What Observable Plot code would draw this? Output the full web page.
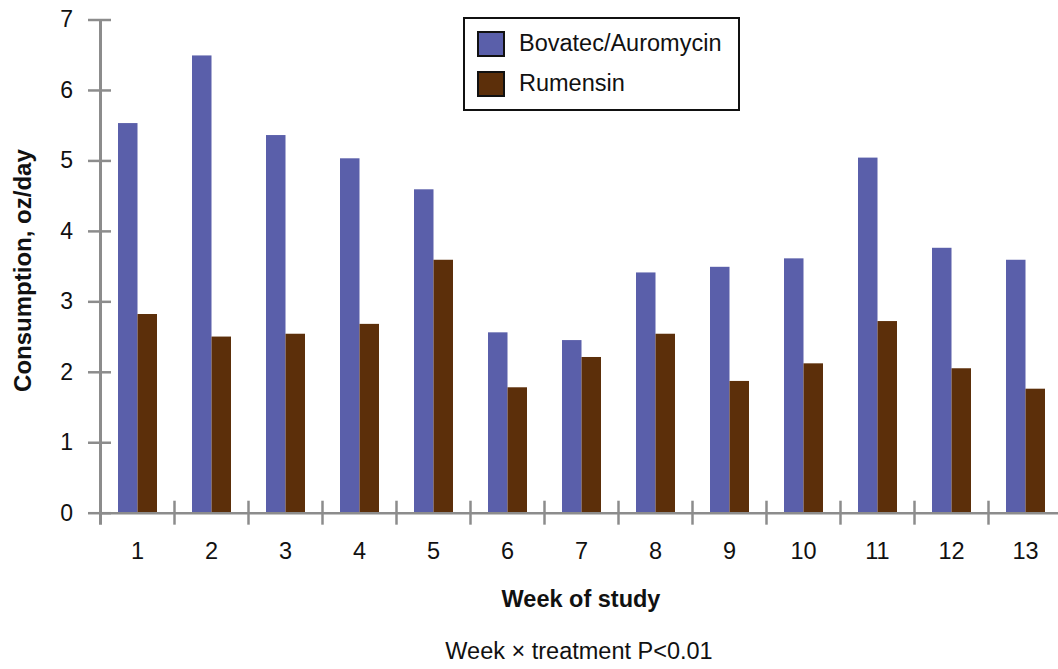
<!DOCTYPE html>
<html>
<head>
<meta charset="utf-8">
<script src="https://cdn.jsdelivr.net/npm/d3@7"></script>
<script src="https://cdn.jsdelivr.net/npm/@observablehq/plot@0.6"></script>
<style>
  html, body { margin: 0; padding: 0; background: #fff; overflow: hidden; }
  #wrap { position: relative; width: 1058px; height: 669px; overflow: hidden;
          font-family: "Liberation Sans", Arial, Helvetica, sans-serif; color: #111; }
  #chart svg { display: block; max-width: none !important; }
  #legend { position: absolute; left: 463px; top: 17px; width: 277px; height: 94px;
            box-sizing: border-box; border: 2px solid #111; background: #fff; }
  .item { position: absolute; left: 12px; height: 27px; display: flex; align-items: center; }
  .sw { width: 24px; height: 22px; border: 2px solid #111; margin-right: 14px; }
  .lab { font-size: 23.5px; }
  #caption { position: absolute; left: 0; width: 1058px; top: 636px; height: 33px;
             text-align: center; font-size: 23.5px; line-height: 30px; padding-left: 100px; box-sizing: border-box; }
</style>
</head>
<body>
<div id="wrap">
  <div id="chart"></div>
  <div id="legend"></div>
  <div id="caption"></div>
</div>
<script>
// ---- data ----
const weeks = [1, 2, 3, 4, 5, 6, 7, 8, 9, 10, 11, 12, 13];
const seriesNames = ["Bovatec/Auromycin", "Rumensin"];
const bovatec  = [5.53, 6.49, 5.36, 5.03, 4.59, 2.56, 2.45, 3.41, 3.49, 3.61, 5.04, 3.76, 3.59];
const rumensin = [2.82, 2.50, 2.54, 2.68, 3.59, 1.78, 2.21, 2.54, 1.87, 2.12, 2.72, 2.05, 1.76];
const yTicks = [0, 1, 2, 3, 4, 5, 6, 7];
const yLabel = "Consumption, oz/day";
const xLabel = "Week of study";
const captionText = "Week \u00d7 treatment P<0.01";
const colors = ["#5a5faa", "#5c2f0a"];

// ---- layout ----
const FONT = '"Liberation Sans", Arial, Helvetica, sans-serif';
const AX = "#8c8c8c";
const W = 1061.5, H = 630, ML = 99.5, MR = 0, MT = 19.5, MB = H - 512.7;
const bw = (W - ML - MR) / weeks.length;

const rows = (vals, s) => weeks.map((w, i) => ({week: w, value: vals[i], series: s}));

const plot = Plot.plot({
  width: W, height: H,
  marginLeft: ML, marginRight: MR, marginTop: MT, marginBottom: MB,
  style: {fontFamily: FONT, fontSize: "23px", color: "#111", background: "#fff", maxWidth: "none", overflow: "visible"},
  x: {type: "band", domain: weeks, padding: 0},
  y: {domain: [0, 7]},
  marks: [
    Plot.barY(rows(bovatec, seriesNames[0]), {x: "week", y: "value", fill: colors[0], insetLeft: 18, insetRight: bw - 37.5}),
    Plot.barY(rows(rumensin, seriesNames[1]), {x: "week", y: "value", fill: colors[1], insetLeft: 37.5, insetRight: bw - 57}),
    Plot.ruleY([0], {stroke: AX, strokeWidth: 2.5}),
    Plot.ruleX(weeks.slice(1), {x: d => d, dx: -bw / 2, y1: -0.17, y2: 0.17, stroke: AX, strokeWidth: 2.5}),
    Plot.ruleX([weeks[0]], {x: d => d, dx: -bw / 2, y1: -0.17, y2: 7, stroke: AX, strokeWidth: 3}),
    Plot.axisY(yTicks, {anchor: "left", tickSize: 23, dx: 11.5, stroke: AX, strokeWidth: 2.5, fill: "none", label: null}),
    Plot.axisY(yTicks, {anchor: "left", tickSize: 11, tickPadding: 16, stroke: "none", fill: "#111", fontSize: 23, tickFormat: d => String(d), label: null}),
    Plot.axisX(weeks, {anchor: "bottom", tickSize: 0, tickPadding: 29, fill: "#111", fontSize: 23.5, label: null}),
    Plot.text([yLabel], {frameAnchor: "left", textAnchor: "middle", rotate: -90, dx: -(ML - 23), dy: 4, fontWeight: "bold", fontSize: 24, fill: "#111"}),
    Plot.text([xLabel], {frameAnchor: "bottom", textAnchor: "middle", dy: 94, fontWeight: "bold", fontSize: 23.5, fill: "#111"})
  ]
});
document.getElementById("chart").appendChild(plot);

// legend
const legend = document.getElementById("legend");
seriesNames.forEach((name, i) => {
  const item = document.createElement("div");
  item.className = "item";
  item.style.top = (11 + i * 40) + "px";
  const sw = document.createElement("div");
  sw.className = "sw";
  sw.style.background = colors[i];
  const lab = document.createElement("span");
  lab.className = "lab";
  lab.textContent = name;
  item.appendChild(sw);
  item.appendChild(lab);
  legend.appendChild(item);
});

document.getElementById("caption").textContent = captionText;
</script>
</body>
</html>
